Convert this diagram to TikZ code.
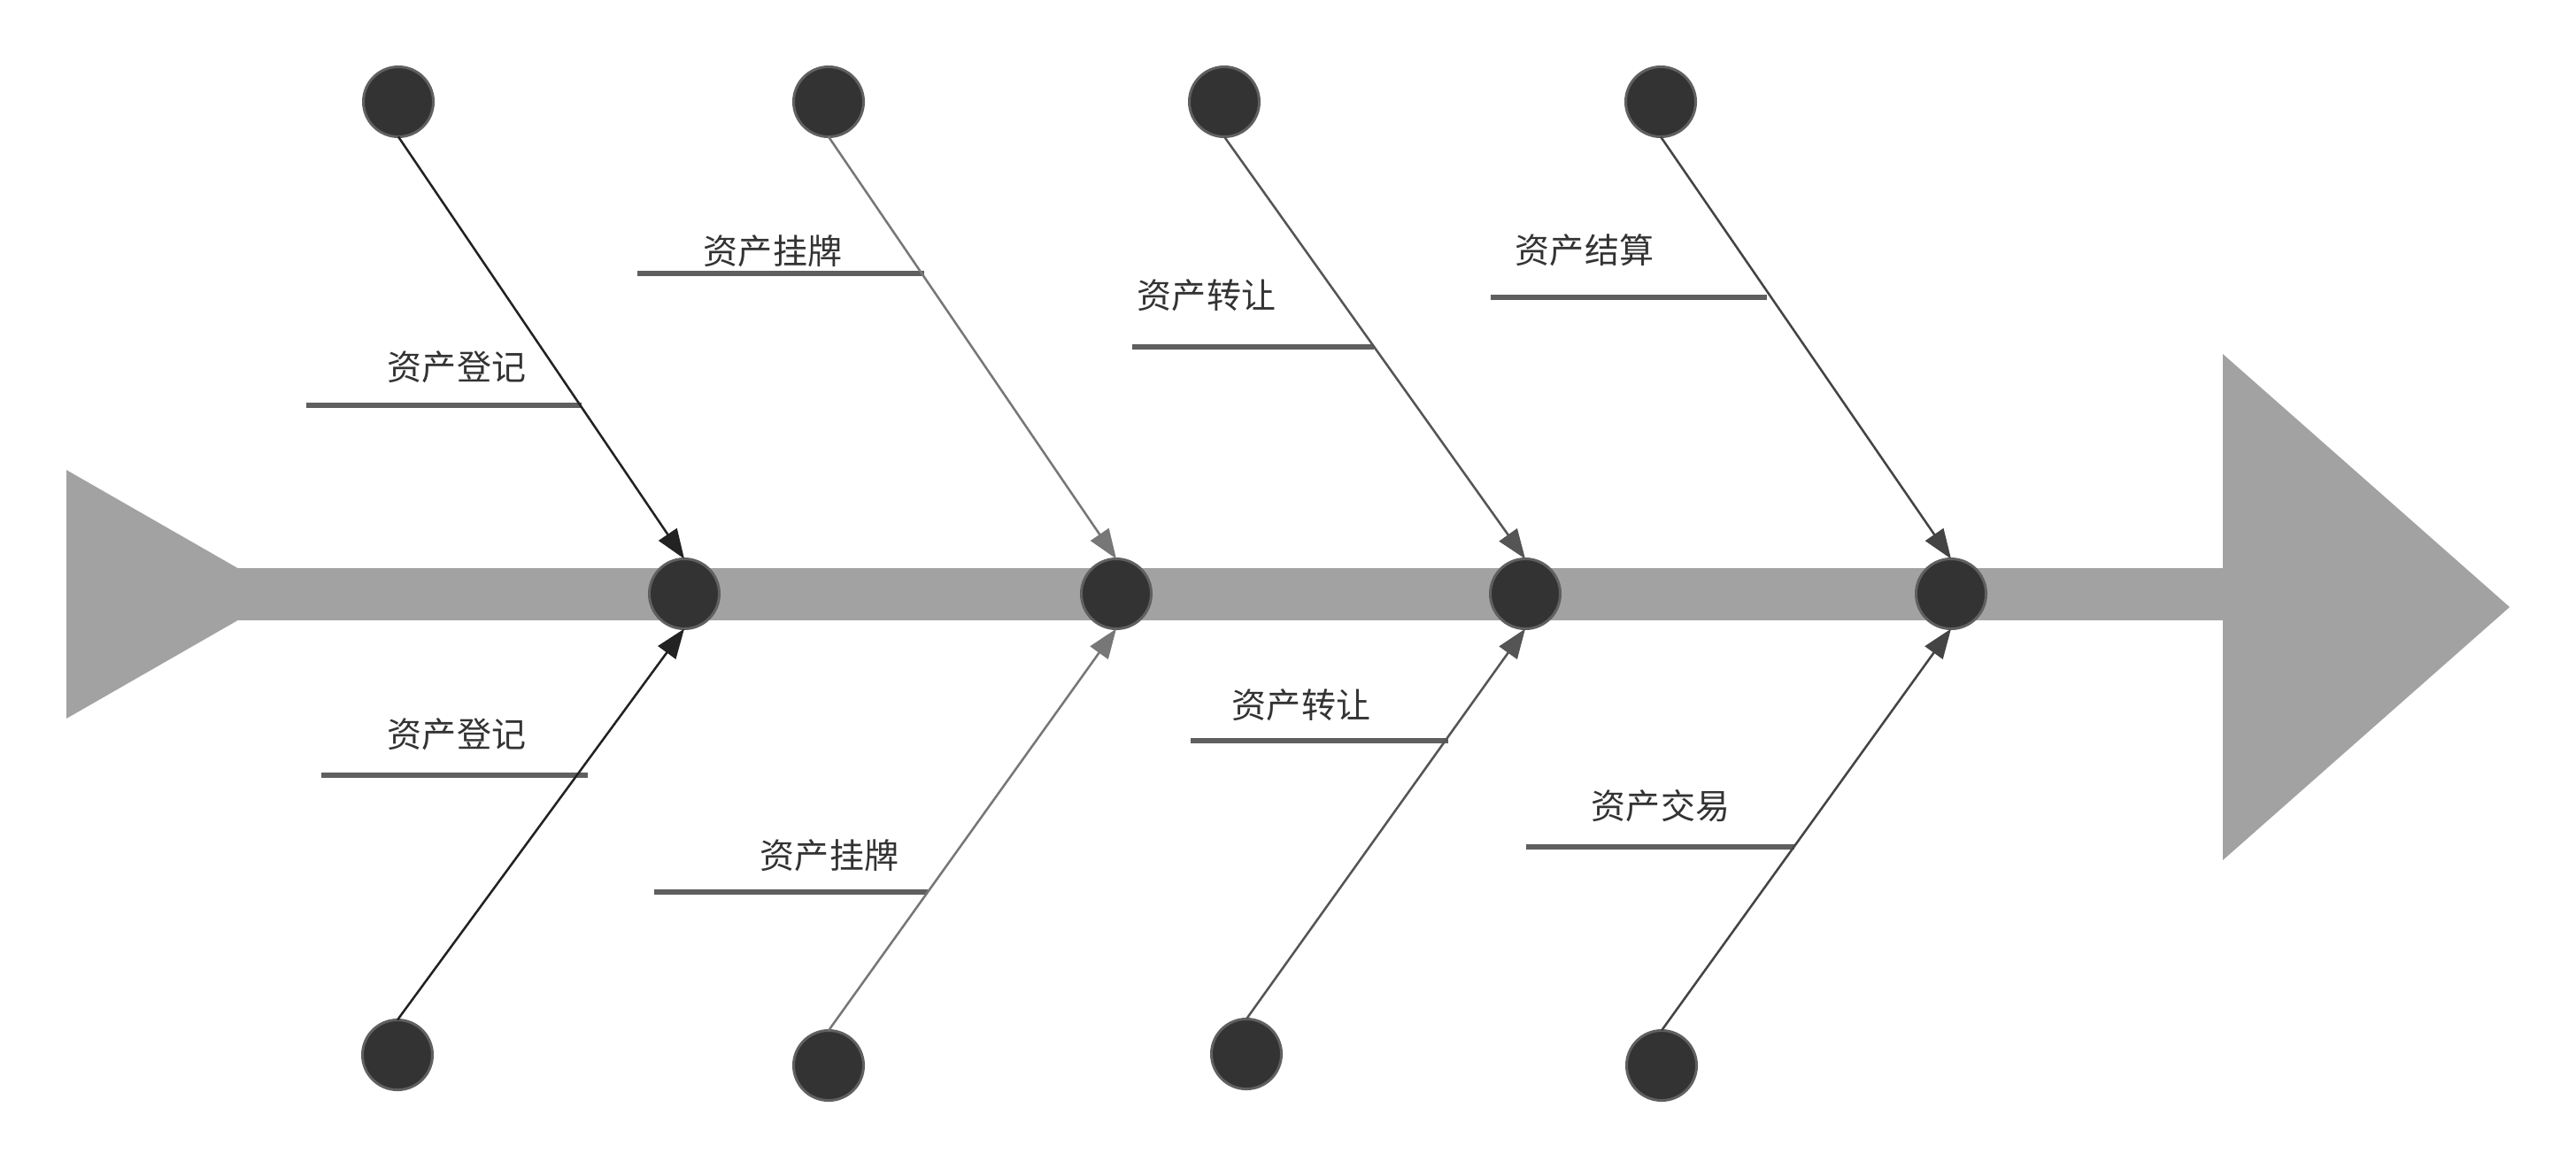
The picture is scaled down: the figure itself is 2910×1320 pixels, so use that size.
\documentclass[tikz,border=0pt]{standalone}
\usepackage{fontspec}
\newfontfamily\cjk{Noto Sans CJK SC}
\usetikzlibrary{arrows.meta}
\definecolor{bandgray}{HTML}{A2A2A2}
\definecolor{dotfill}{HTML}{333333}
\definecolor{dotborder}{HTML}{606060}
\definecolor{txt}{HTML}{333333}
\definecolor{ulcol}{HTML}{5F5F5F}
\definecolor{boneA}{HTML}{222222}
\definecolor{boneB}{HTML}{777777}
\definecolor{boneC}{HTML}{555555}
\definecolor{boneD}{HTML}{444444}
\tikzset{
  dot/.style={circle, fill=dotfill, draw=dotborder, line width=0.85pt, minimum size=0.79cm, inner sep=0pt, outer sep=0pt},
  lbl/.style={font=\cjk\fontsize{11.1pt}{13pt}\selectfont, text=txt, inner sep=0pt},
  uline/.style={draw=ulcol, line width=1.7pt},
  bone/.style={line width=0.72pt, -{Triangle[length=9.5pt,width=7pt]}},
}
\begin{document}
\begin{tikzpicture}[x=0.01cm,y=-0.01cm]
\useasboundingbox (0,0) rectangle (2910,1320);
% spine
\fill[bandgray] (200,642) rectangle (2515,701);
\fill[bandgray] (75,531) -- (320,671.5) -- (75,812) -- cycle;
\fill[bandgray] (2511,400) -- (2835,686) -- (2511,972) -- cycle;
% underlines
\draw[uline] (346,458) -- (657,458);
\draw[uline] (720,309) -- (1044,309);
\draw[uline] (1279,392) -- (1552,392);
\draw[uline] (1684,336) -- (1996,336);
\draw[uline] (363,876) -- (664,876);
\draw[uline] (739,1008) -- (1048,1008);
\draw[uline] (1345,837) -- (1636,837);
\draw[uline] (1724,957) -- (2027,957);
% labels
\node[lbl] (l1) at (516,415) {资产登记};
\node[lbl] (l2) at (873,284) {资产挂牌};
\node[lbl] (l3) at (1363,334) {资产转让};
\node[lbl] (l4) at (1790,283) {资产结算};
\node[lbl] (l5) at (516,830) {资产登记};
\node[lbl] (l6) at (937,967) {资产挂牌};
\node[lbl] (l7) at (1470,797) {资产转让};
\node[lbl] (l8) at (1876,911) {资产交易};
% spine dots
\node[dot] (s1) at (773,671) {};
\node[dot] (s2) at (1261,671) {};
\node[dot] (s3) at (1723,671) {};
\node[dot] (s4) at (2204,671) {};
% top dots
\node[dot] (t1) at (450,115) {};
\node[dot] (t2) at (936,115) {};
\node[dot] (t3) at (1383,115) {};
\node[dot] (t4) at (1876,115) {};
% bottom dots
\node[dot] (b1) at (449,1192) {};
\node[dot] (b2) at (936,1204) {};
\node[dot] (b3) at (1408,1191) {};
\node[dot] (b4) at (1877,1204) {};
% bones
\draw[bone, boneA] (t1.south) -- (s1.north);
\draw[bone, boneB] (t2.south) -- (s2.north);
\draw[bone, boneC] (t3.south) -- (s3.north);
\draw[bone, boneD] (t4.south) -- (s4.north);
\draw[bone, boneA] (b1.north) -- (s1.south);
\draw[bone, boneB] (b2.north) -- (s2.south);
\draw[bone, boneC] (b3.north) -- (s3.south);
\draw[bone, boneD] (b4.north) -- (s4.south);
\end{tikzpicture}
\end{document}
